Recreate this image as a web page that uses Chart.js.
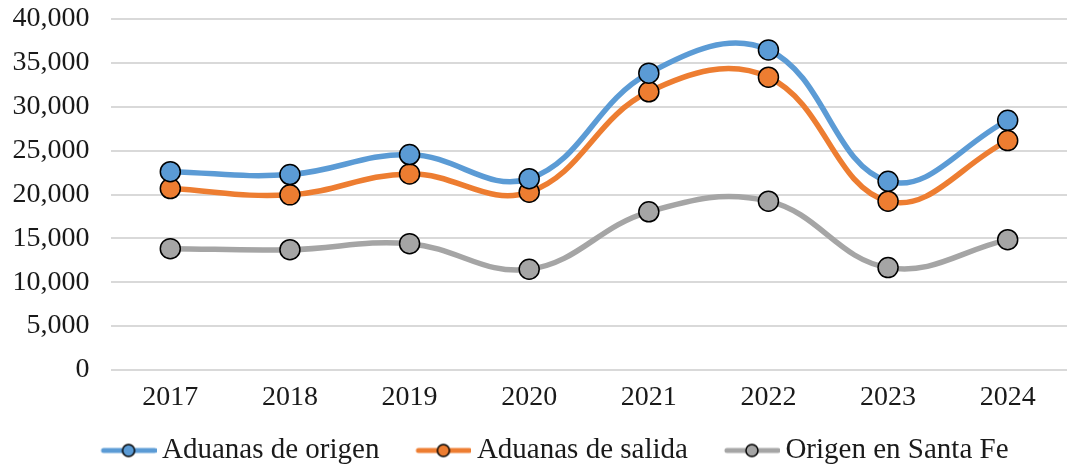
<!DOCTYPE html>
<html>
<head>
<meta charset="utf-8">
<script src="https://cdn.jsdelivr.net/npm/chart.js@4/dist/chart.umd.min.js"></script>
<style>
    html, body { margin: 0; padding: 0; background: #ffffff; overflow: hidden; }
    #wrap { position: relative; width: 1079px; height: 475px; }
</style>
</head>
<body>
<div id="wrap"><canvas id="aduanasChart"></canvas></div>
<script>
// Datos del gráfico
const years = ['2017', '2018', '2019', '2020', '2021', '2022', '2023', '2024'];
const aduanasOrigen = [22600, 22270, 24550, 21800, 33830, 36480, 21510, 28450];
const aduanasSalida = [20680, 19960, 22350, 20270, 31700, 33370, 19240, 26140];
const origenSantaFe = [13830, 13710, 14400, 11480, 18030, 19240, 11670, 14850];
const yTicks = [0, 5000, 10000, 15000, 20000, 25000, 30000, 35000, 40000];

const colors = {
    blue: '#5b9bd5',
    orange: '#ed7d31',
    gray: '#a5a5a5',
    grid: '#d9d9d9',
    text: '#1a1a1a'
};
const fontFamily = '"Liberation Serif", "Times New Roman", serif';
const fontSize = 28;

// Símbolo de leyenda: línea con círculo
function legendSymbol(color) {
    const c = document.createElement('canvas');
    c.width = 91;
    c.height = 16;
    const ctx = c.getContext('2d');
    ctx.strokeStyle = color;
    ctx.lineWidth = 5;
    ctx.lineCap = 'round';
    ctx.beginPath();
    ctx.moveTo(38, 8);
    ctx.lineTo(89, 8);
    ctx.stroke();
    ctx.beginPath();
    ctx.arc(63, 8, 6, 0, Math.PI * 2);
    ctx.fillStyle = color;
    ctx.fill();
    ctx.lineWidth = 1.5;
    ctx.strokeStyle = '#000000';
    ctx.stroke();
    return c;
}

function makeDataset(label, data, color) {
    return {
        label: label,
        data: data,
        borderColor: color,
        backgroundColor: color,
        borderWidth: 5.5,
        tension: 0.4,
        pointRadius: 10,
        pointBorderColor: '#000000',
        pointBorderWidth: 1.5,
        pointBackgroundColor: color,
        pointStyle: 'circle',
        legendImage: legendSymbol(color),
        fill: false
    };
}

const datasets = [
    makeDataset('Aduanas de origen', aduanasOrigen, colors.blue),
    makeDataset('Aduanas de salida', aduanasSalida, colors.orange),
    makeDataset('Origen en Santa Fe', origenSantaFe, colors.gray)
];

// Desplaza la leyenda para centrarla como en el original
const legendShift = {
    id: 'legendShift',
    afterLayout(chart) {
        if (!chart.legend) return;
        chart.legend.left += 2;
        chart.legend.right += 2;
    }
};

new Chart(document.getElementById('aduanasChart'), {
    type: 'line',
    data: { labels: years, datasets: datasets },
    plugins: [legendShift],
    options: {
        responsive: true,
        maintainAspectRatio: false,
        animation: false,
        layout: { padding: { left: 0, right: 0, top: 19, bottom: 0 } },
        plugins: {
            tooltip: { enabled: false },
            legend: {
                position: 'bottom',
                labels: {
                    usePointStyle: true,
                    pointStyleWidth: 73,
                    padding: 10,
                    color: colors.text,
                    font: { family: fontFamily, size: 29 },
                    generateLabels: function(chart) {
                        return chart.data.datasets.map((ds, i) => ({
                            text: ds.label,
                            pointStyle: ds.legendImage,
                            fillStyle: ds.backgroundColor,
                            strokeStyle: ds.borderColor,
                            lineWidth: 0,
                            hidden: false,
                            datasetIndex: i,
                            fontColor: colors.text
                        }));
                    }
                }
            }
        },
        scales: {
            x: {
                offset: true,
                grid: { display: false, drawTicks: false },
                border: { display: false },
                ticks: {
                    color: colors.text,
                    padding: 11,
                    font: { family: fontFamily, size: fontSize }
                },
                afterFit: function(scale) { scale.height = 56; }
            },
            y: {
                min: 0,
                max: 40000,
                afterBuildTicks: function(scale) {
                    scale.ticks = yTicks.map(v => ({ value: v }));
                },
                grid: { color: colors.grid, lineWidth: 2, drawTicks: false },
                border: { display: false },
                ticks: {
                    color: colors.text,
                    padding: 21,
                    font: { family: fontFamily, size: fontSize },
                    callback: v => v.toLocaleString('en-US')
                },
                afterFit: function(scale) {
                    scale.width = 110.5;
                    scale.paddingTop = 0;
                    scale.paddingBottom = 0;
                }
            }
        }
    }
});
</script>
</body>
</html>
